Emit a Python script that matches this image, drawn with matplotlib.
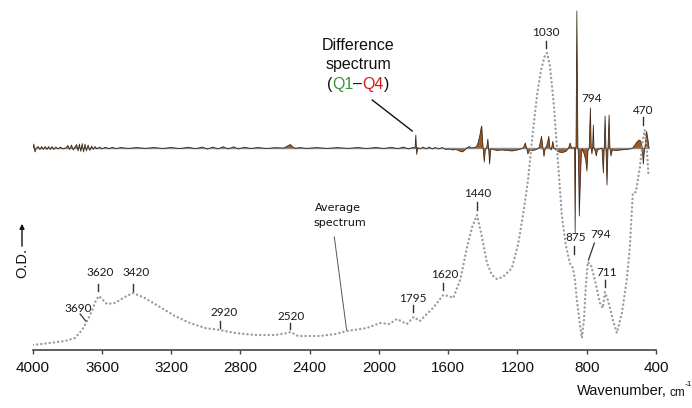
import numpy as np
import matplotlib
matplotlib.use("Agg")
import matplotlib.pyplot as plt
from matplotlib.colors import LinearSegmentedColormap, Normalize
from matplotlib.patches import Polygon
from matplotlib.offsetbox import TextArea, HPacker, AnnotationBbox

# ---------------- data ----------------
avg_wn = [4000, 3900, 3813, 3756, 3715, 3686, 3658, 3634, 3617, 3600, 3571, 3525, 3468,
          3421, 3352, 3265, 3179, 3092, 3005, 2918, 2832, 2716, 2601, 2526, 2510, 2468,
          2341, 2250, 2185, 2070, 1995, 1940, 1897, 1839, 1800, 1764, 1688, 1629, 1600,
          1571, 1531, 1491, 1462, 1434, 1405, 1376, 1348, 1319, 1284, 1232, 1197, 1168,
          1139, 1110, 1087, 1064, 1041, 1030, 1013, 990, 967, 944, 921, 898, 880, 868,
          857, 839, 828, 816, 805, 794, 776, 753, 724, 707, 695, 678, 649, 626, 597,
          569, 551, 534, 516, 493, 476, 465, 453, 444]
avg_od = [5, 7, 9, 12, 20, 29, 39, 50, 54, 51, 46, 47, 53,
          57, 52, 43, 34, 27, 22, 20, 17, 15, 15, 17, 18, 14,
          14, 16, 19, 22, 27, 26, 31, 26, 33, 29, 42, 55, 54,
          52, 70, 103, 123, 135, 113, 87, 75, 71, 73, 82, 105, 135,
          170, 220, 255, 280, 295, 297, 285, 245, 190, 135, 105, 87, 82, 70,
          50, 25, 12, 30, 65, 88, 85, 70, 47, 42, 58, 50, 30, 17, 37,
          70, 103, 157, 158, 183, 210, 220, 200, 177]

diff_wn = [4000, 3993, 3987, 3978, 3968, 3958, 3948, 3938, 3928, 3918, 3908, 3898, 3888,
           3878, 3866, 3854, 3840, 3826, 3810, 3796, 3786, 3776, 3766, 3756, 3746, 3738,
           3730, 3722, 3714, 3706, 3698, 3690, 3680, 3670, 3660, 3650, 3640, 3628, 3614,
           3600, 3580, 3560, 3540, 3520, 3490, 3450, 3400, 3350, 3300, 3250, 3200, 3150,
           3100, 3060, 3020, 2990, 2960, 2930, 2900, 2870, 2840, 2810, 2780, 2740, 2700,
           2650, 2600, 2550, 2528, 2512, 2497, 2482, 2460, 2420, 2360, 2300, 2240, 2180,
           2120, 2070, 2020, 1970, 1930, 1890, 1860, 1830, 1805, 1792, 1787, 1782, 1776,
           1762, 1745, 1728, 1710, 1692, 1675, 1655, 1635, 1615, 1595, 1575, 1555, 1535,
           1518, 1503, 1490, 1478, 1466, 1448, 1436, 1428, 1418, 1410, 1406, 1402, 1398,
           1392, 1385, 1378, 1371, 1367, 1361, 1354, 1340, 1320, 1290, 1260, 1230, 1200,
           1180, 1165, 1155, 1147, 1140, 1130, 1110, 1090, 1075, 1061, 1053, 1047, 1040,
           1030, 1019, 1013, 1005, 996, 989, 978, 962, 940, 920, 906, 896, 888, 875,
           870, 867, 864, 862, 857, 851, 848, 843, 837, 831, 825, 815, 806, 799, 793,
           786, 779, 774, 770, 766, 762, 758, 750, 745, 738, 725, 712, 704, 699, 694,
           689, 683, 677, 671, 666, 660, 652, 630, 600, 575, 550, 535, 522, 510, 498,
           488, 480, 473, 467, 461, 454, 446, 440]
diff_dod = [0, 4, -4, 0, 1.5, -1.5, 1.5, -1.5, 1.5, -1.5, 1.5, -1.5, 1.5,
            -1.5, 1, -1, 1, -1, 0, 2.5, -1.5, 3, -2, 1, 3.5, -3,
            4, -3.5, 4.5, -4, 4, -3, 3, -2.5, 2, -1.5, 1.5, -1, 1,
            -1, 0.8, -0.8, 0.7, -0.7, 0.5, -0.5, 0.5, -0.4, 0.5, -0.5, 0.5, -0.6,
            0.8, -0.8, 1, -1.2, 1, -1, 1.3, -1, 1.2, -1, 0.8, -0.5, 0.5,
            -0.5, 0.3, 0, 2, 3.5, 1, -0.5, 0.5, -0.4, 0.4, -0.4, 0.4, -0.4,
            0.5, -0.6, 0.6, -0.6, 0.8, -0.8, 1, -1, 0.5, 0, 13, -6.5, 0.5,
            -1, 1, -1, 1, -1, 0.5, -1, 0.5, -1.5, -1, -2, -1.5, -3,
            -4, -2, 0.5, 1.5, 0, 0.5, 1.5, 5, 12, 20, 22, 9, 0,
            -14, -1, 0, 9, 0, -16, -1, -1.5, -2.5, -2, -2.5, -3, -2,
            -1, 0.5, 5, 0, -6, -2, -2.5, -1.5, 0.5, 11.7, 0, -8.4, -1,
            3, 11.7, 0.5, -2, 6.6, 0, -2, -4, -4.5, -3.5, -0.5, 5, 0, 0.5,
            0, -85, 0, 2, 137, 2, -8, -68, -35, -6, -1, -6, -12, -23, -3,
            0, 40, 0, -6, 0, 23, 0, -4, -8, -2, -1, 0, -25, 0, 32,
            0, -37, 0, 33, 0, -8, -2, -2.5, -2, -1.5, -1, 0, 3, 6, 8,
            7, 0, -16, -3, 5, 16.6, 8, 0]
DIFF_OFFSET = 202

xtick_values = [4000, 3600, 3200, 2800, 2400, 2000, 1600, 1200, 800, 400]

# peak labels: text, label x, label y, marker x, marker y0, marker y1
avg_peak_labels = [
    ("3620", 3611, 77, 3620, 66, 59),
    ("3420", 3403, 77, 3419, 66, 59),
    ("2920", 2895, 37, 2918, 29, 22),
    ("2520", 2508, 34, 2514, 27, 21),
    ("1795", 1804, 52, 1804, 45, 38),
    ("1620", 1622, 75, 1628, 67, 60),
    ("1440", 1432, 156, 1436, 148, 140),
    ("1030", 1036, 318, 1033, 309, 302),
    ("875", 866, 112, 874, 104, 96),
    ("711", 684, 77, 695, 70, 63),
    ("470", 475, 240, 476, 233, 225),
]
# labels with slanted leaders: text, label x, label y, leader from (x, y) to (x, y)
slanted_labels = [
    ("3690", 3740, 42, (3726, 36), (3694, 29)),
    ("794", 718, 115, (756, 107), (790, 90)),
]
free_labels = [("794", 770, 251)]

# ---------------- figure ----------------
plt.rcParams['font.family'] = ['Liberation Sans', 'DejaVu Sans']
W, H = 692, 408
fig = plt.figure(figsize=(W / 100, H / 100), dpi=100)
ax = fig.add_axes([32.7 / W, 1 - 350 / H, (656 - 32.7) / W, 350 / H])

# difference spectrum: gradient fill clipped to polygon
dw = np.array(diff_wn, float)
dv = np.array(diff_dod, float)
verts = np.column_stack([np.concatenate([dw, dw[::-1]]),
                         np.concatenate([DIFF_OFFSET + dv, np.full(dw.size, DIFF_OFFSET)])])
poly = Polygon(verts, closed=True, facecolor='none', edgecolor='none')
ax.add_patch(poly)
stops = [(0.0, '#c8281c'), (0.196, '#ad401c'), (0.391, '#a55a22'),
         (0.55, '#7a5426'), (0.74, '#4f6a34'), (1.0, '#3f9040')]
cmap = LinearSegmentedColormap.from_list('diffgrad', stops)
grad = np.linspace(-90, 140, 400).reshape(-1, 1)
im = ax.imshow(grad, extent=[400, 4000, DIFF_OFFSET - 90, DIFF_OFFSET + 140],
               origin='lower', aspect='auto', cmap=cmap, norm=Normalize(-90, 140),
               zorder=2, interpolation='bilinear')
im.set_clip_path(poly)
ax.hlines(DIFF_OFFSET, dw.min(), dw.max(), color='#8a8a8a', lw=1.0, zorder=2.5)
ax.plot(dw, DIFF_OFFSET + dv, color='#3a2412', lw=0.55, zorder=3)

# average spectrum, dotted
ax.plot(avg_wn, avg_od, color='#9c9c9c', lw=1.7, linestyle=(0, (0.1, 1.7)),
        dash_capstyle='round', solid_capstyle='round', zorder=4)

# peak labels
pk_font = dict(family=['Lato', 'DejaVu Sans'], fontsize=8.5, color='#1a1a1a',
               ha='center', va='center')
for txt, lx, ly, mx, y0, y1 in avg_peak_labels:
    ax.text(lx, ly, txt, zorder=6, **pk_font)
    ax.plot([mx, mx], [y0, y1], color='#333333', lw=1.0, zorder=6)
for txt, lx, ly, p0, p1 in slanted_labels:
    ax.text(lx, ly, txt, zorder=6, **pk_font)
    ax.plot([p0[0], p1[0]], [p0[1], p1[1]], color='#333333', lw=0.9, zorder=6)
for txt, lx, ly in free_labels:
    ax.text(lx, ly, txt, zorder=6, **pk_font)

# "Difference spectrum (Q1–Q4)"
big = dict(fontsize=11.5, family=['Liberation Sans', 'DejaVu Sans'])
ax.text(2121, 305, "Difference", ha='center', va='center', color='#111111', **big)
ax.text(2121, 285, "spectrum", ha='center', va='center', color='#111111', **big)
parts = [("(", '#111111'), ("Q1", '#3a943a'), ("\u2013", '#111111'),
         ("Q4", '#d01c1c'), (")", '#111111')]
box = HPacker(children=[TextArea(s, textprops=dict(color=c, **big)) for s, c in parts],
              pad=0, sep=0, align='baseline')
ab = AnnotationBbox(box, (2121, 266), xycoords='data', frameon=False,
                    box_alignment=(0.5, 0.5), pad=0, zorder=6)
ax.add_artist(ab)
ax.plot([2039, 1808], [250, 219], color='#111111', lw=1.0, zorder=6)

# "Average spectrum"
small = dict(fontsize=8, family=['DejaVu Sans'], color='#111111', ha='center', va='center')
ax.text(2237, 142, "Average", **small)
ax.text(2226, 127, "spectrum", **small)
ax.plot([2258, 2187], [113, 20], color='#555555', lw=0.7, zorder=6)

# axes styling
ax.set_xlim(4000, 400)
ax.set_ylim(0, 350)
for s in ('top', 'left', 'right'):
    ax.spines[s].set_visible(False)
ax.spines['bottom'].set_color('#444444')
ax.spines['bottom'].set_linewidth(1.2)
ax.set_yticks([])
ax.set_xticks(xtick_values)
ax.set_xticklabels([str(v) for v in xtick_values])
ax.tick_params(axis='x', direction='out', length=3, width=1.0, color='#444444',
               labelsize=11, pad=5, labelcolor='#111111')

# axis titles
fig.text(667 / W, 1 - 391 / H, "Wavenumber,", ha='right', va='center', fontsize=10.5,
         color='#111111')
fig.text(670 / W, 1 - 393 / H, "cm", ha='left', va='center', fontsize=8.5, color='#111111')
fig.text(684.5 / W, 1 - 385 / H, "-1", ha='left', va='center', fontsize=6, color='#111111')
fig.text(22 / W, 1 - 263 / H, "O.D.", rotation=90, ha='center', va='center',
         fontsize=10.5, color='#111111')
fig.add_artist(matplotlib.patches.FancyArrowPatch(
    (22 / W, 1 - 249 / H), (22 / W, 1 - 221 / H), transform=fig.transFigure,
    arrowstyle='-|>', mutation_scale=7, color='#111111', lw=1.0))

fig.savefig("out.png", dpi=100)
